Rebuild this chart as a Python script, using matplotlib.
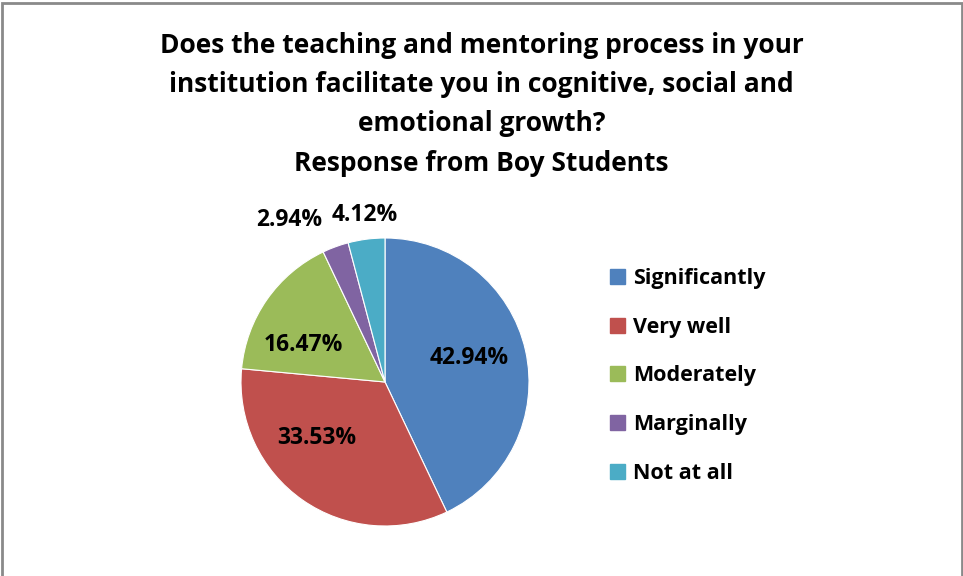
import matplotlib
matplotlib.use("Agg")
import matplotlib.pyplot as plt
import matplotlib.patches as mpatches
import numpy as np

categories = ["Significantly", "Very well", "Moderately", "Marginally", "Not at all"]
values = [42.94, 33.53, 16.47, 2.94, 4.12]
labels_txt = ["42.94%", "33.53%", "16.47%", "2.94%", "4.12%"]
colors = ["#4F81BD", "#C0504D", "#9BBB59", "#8064A2", "#4BACC6"]
title = ("Does the teaching and mentoring process in your\n"
         "institution facilitate you in cognitive, social and\n"
         "emotional growth?\n"
         "Response from Boy Students")

plt.rcParams['font.family'] = ['Open Sans', 'DejaVu Sans']

fig = plt.figure(figsize=(9.63, 5.76), dpi=100)
# outer frame
fig.patches.append(mpatches.Rectangle((2/963, -0.05), 960/963, 1.05 - 3/576,
                                      transform=fig.transFigure, fill=False,
                                      edgecolor="#8a8a8a", linewidth=2))

fig.text(0.5, 1 - 32/576, title, ha="center", va="top", fontsize=19,
         fontweight="bold", linespacing=1.58)

ax = fig.add_axes([241/963, 50/576, 288/963, 288/576])
wedges, _ = ax.pie(values, colors=colors, startangle=90, counterclock=False,
                   wedgeprops=dict(edgecolor="white", linewidth=0.8))
ax.set_xlim(-1, 1)
ax.set_ylim(-1, 1)
ax.set_aspect("equal")
ax.axis("off")

# label placement (radius, angular offset in degrees)
placement = [(0.607, 3.2), (0.61, -15.6), (0.625, 10.6), (1.306, 10.4), (1.169, -0.4)]
for w, txt, (r, off) in zip(wedges, labels_txt, placement):
    ang = np.deg2rad((w.theta1 + w.theta2) / 2 + off)
    ax.text(r * np.cos(ang), r * np.sin(ang), txt, ha="center", va="center",
            fontsize=16.5, fontweight="bold", clip_on=False)

handles = [mpatches.Patch(facecolor=c, edgecolor=c) for c in colors]
leg = fig.legend(handles, categories, loc="upper left",
                 bbox_to_anchor=(591/963, 1 - 249/576), frameon=False,
                 prop=dict(size=15.5, weight="bold"), labelspacing=1.28,
                 handlelength=0.7, handleheight=0.7, handletextpad=0.35)

fig.savefig("out.png", dpi=100)
